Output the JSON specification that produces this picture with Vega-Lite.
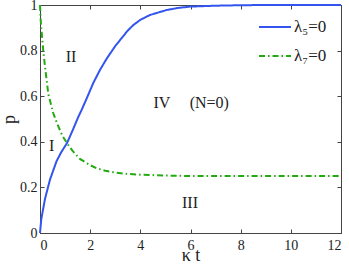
{
  "$schema": "https://vega.github.io/schema/vega-lite/v6.json",
  "width": 301,
  "height": 228,
  "autosize": {"type": "none"},
  "padding": {"left": 40, "top": 5, "right": 8, "bottom": 35},
  "background": "white",
  "config": {
    "font": "Liberation Serif",
    "view": {"stroke": "#444", "strokeWidth": 1},
    "axis": {"grid": false, "domainColor": "#444", "tickColor": "#444", "labelColor": "#222", "titleColor": "#222", "labelFont": "Liberation Serif", "titleFont": "Liberation Serif", "labelFontSize": 14, "tickSize": -4, "titleFontWeight": "normal"},
    "legend": {"labelFont": "Liberation Serif"}
  },
  "resolve": {"axis": {"x": "independent", "y": "independent"}},
  "layer": [
    {
      "data": {"values": [
        {"t": 0, "p": 0, "s": "λ₅=0"},
        {"t": 0.05, "p": 0.06, "s": "λ₅=0"},
        {"t": 0.1, "p": 0.09, "s": "λ₅=0"},
        {"t": 0.2, "p": 0.15, "s": "λ₅=0"},
        {"t": 0.4, "p": 0.235, "s": "λ₅=0"},
        {"t": 0.66, "p": 0.315, "s": "λ₅=0"},
        {"t": 0.85, "p": 0.355, "s": "λ₅=0"},
        {"t": 1.08, "p": 0.395, "s": "λ₅=0"},
        {"t": 1.3, "p": 0.45, "s": "λ₅=0"},
        {"t": 1.53, "p": 0.51, "s": "λ₅=0"},
        {"t": 1.66, "p": 0.54, "s": "λ₅=0"},
        {"t": 1.9, "p": 0.6, "s": "λ₅=0"},
        {"t": 2.12, "p": 0.657, "s": "λ₅=0"},
        {"t": 2.39, "p": 0.715, "s": "λ₅=0"},
        {"t": 2.66, "p": 0.765, "s": "λ₅=0"},
        {"t": 3.0, "p": 0.82, "s": "λ₅=0"},
        {"t": 3.19, "p": 0.846, "s": "λ₅=0"},
        {"t": 3.5, "p": 0.888, "s": "λ₅=0"},
        {"t": 3.72, "p": 0.912, "s": "λ₅=0"},
        {"t": 4.0, "p": 0.935, "s": "λ₅=0"},
        {"t": 4.38, "p": 0.956, "s": "λ₅=0"},
        {"t": 5.05, "p": 0.978, "s": "λ₅=0"},
        {"t": 5.5, "p": 0.987, "s": "λ₅=0"},
        {"t": 5.98, "p": 0.993, "s": "λ₅=0"},
        {"t": 7.04, "p": 0.997, "s": "λ₅=0"},
        {"t": 8, "p": 0.999, "s": "λ₅=0"},
        {"t": 9, "p": 1, "s": "λ₅=0"},
        {"t": 12, "p": 1, "s": "λ₅=0"},
        {"t": 0, "p": 1.0, "s": "λ₇=0"},
        {"t": 0.03, "p": 0.93, "s": "λ₇=0"},
        {"t": 0.07, "p": 0.876, "s": "λ₇=0"},
        {"t": 0.13, "p": 0.8, "s": "λ₇=0"},
        {"t": 0.2, "p": 0.73, "s": "λ₇=0"},
        {"t": 0.33, "p": 0.61, "s": "λ₇=0"},
        {"t": 0.53, "p": 0.525, "s": "λ₇=0"},
        {"t": 0.7, "p": 0.475, "s": "λ₇=0"},
        {"t": 0.9, "p": 0.425, "s": "λ₇=0"},
        {"t": 1.1, "p": 0.39, "s": "λ₇=0"},
        {"t": 1.3, "p": 0.36, "s": "λ₇=0"},
        {"t": 1.59, "p": 0.325, "s": "λ₇=0"},
        {"t": 1.99, "p": 0.298, "s": "λ₇=0"},
        {"t": 2.26, "p": 0.284, "s": "λ₇=0"},
        {"t": 2.6, "p": 0.273, "s": "λ₇=0"},
        {"t": 3.0, "p": 0.265, "s": "λ₇=0"},
        {"t": 3.5, "p": 0.259, "s": "λ₇=0"},
        {"t": 4.0, "p": 0.256, "s": "λ₇=0"},
        {"t": 5, "p": 0.252, "s": "λ₇=0"},
        {"t": 6, "p": 0.25, "s": "λ₇=0"},
        {"t": 12, "p": 0.25, "s": "λ₇=0"}
      ]},
      "mark": {"type": "line", "strokeWidth": 2},
      "encoding": {
        "x": {"field": "t", "type": "quantitative", "scale": {"domain": [0, 12], "nice": false}, "axis": {"values": [0, 2, 4, 6, 8, 10, 12], "title": "κ t", "titleFontSize": 18, "titlePadding": -6, "labelPadding": 9}},
        "y": {"field": "p", "type": "quantitative", "scale": {"domain": [0, 1], "nice": false}, "axis": {"values": [0, 0.2, 0.4, 0.6, 0.8, 1], "labelExpr": "format(datum.value, '~g')", "title": "p", "titleFontSize": 18, "titlePadding": 1, "labelPadding": 7}},
        "color": {"field": "s", "type": "nominal", "scale": {"domain": ["λ₅=0", "λ₇=0"], "range": ["#3355ee", "#22aa11"]}, "legend": {"title": null, "orient": "none", "legendX": 218, "legendY": 5, "symbolType": "stroke", "symbolSize": 1024, "symbolStrokeWidth": 2, "labelFontSize": 17, "labelColor": "#222", "rowPadding": 4, "labelOffset": 2}},
        "strokeDash": {"field": "s", "type": "nominal", "scale": {"domain": ["λ₅=0", "λ₇=0"], "range": [[1, 0], [6, 3, 1.5, 3]]}, "legend": null}
      }
    },
    {
      "data": {"values": [
        {"t": 1.24, "p": 0.77, "label": "II"},
        {"t": 0.46, "p": 0.38, "label": "I"},
        {"t": 4.86, "p": 0.57, "label": "IV"},
        {"t": 6.75, "p": 0.57, "label": "(N=0)"},
        {"t": 5.98, "p": 0.13, "label": "III"}
      ]},
      "mark": {"type": "text", "fontSize": 16, "color": "#222", "baseline": "middle", "align": "center"},
      "encoding": {
        "x": {"field": "t", "type": "quantitative", "axis": {"orient": "top", "values": [0, 2, 4, 6, 8, 10, 12], "labels": false, "title": null, "domain": false}},
        "y": {"field": "p", "type": "quantitative", "axis": {"orient": "right", "values": [0, 0.2, 0.4, 0.6, 0.8, 1], "labels": false, "title": null, "domain": false}},
        "text": {"field": "label"}
      }
    }
  ]
}
